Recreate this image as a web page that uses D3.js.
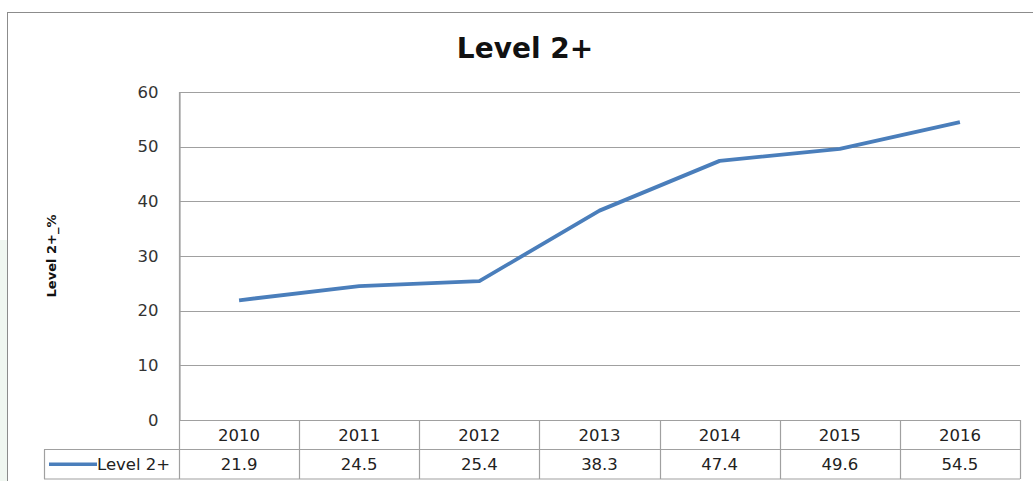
<!DOCTYPE html>
<html><head><meta charset="utf-8">
<script src="https://cdn.jsdelivr.net/npm/d3@7"></script>
<style>body{margin:0;background:#fff}svg{display:block}text{font-family:"DejaVu Sans",sans-serif}</style>
</head><body><svg id="c" width="1033" height="481"></svg>
<script>
const years = ["2010","2011","2012","2013","2014","2015","2016"];
const values = [21.9, 24.5, 25.4, 38.3, 47.4, 49.6, 54.5];
const yTicks = [0,10,20,30,40,50,60];
const seriesName = "Level 2+";
const title = "Level 2+";
const yTitle = "Level 2+_%";

const svg = d3.select("#c");
const L = 179, R = 1020, T = 92, B = 420, rowH = 29.5, FS = 16.5;
// faint watermark strip
svg.append("rect").attr("x",0).attr("y",240).attr("width",7).attr("height",241).attr("fill","#f0f7f1");
// chart border
svg.append("rect").attr("x",7.5).attr("y",12.5).attr("width",1040).attr("height",480)
  .attr("fill","none").attr("stroke","#8c8c8c");

const x = d3.scaleBand().domain(years).range([L,R]);
const y = d3.scaleLinear().domain([0,60]).range([B,T]);

// gridlines
svg.append("g").selectAll("line").data(yTicks.filter(d=>d>0)).join("line")
  .attr("x1",L).attr("x2",R).attr("y1",d=>Math.round(y(d))+0.5).attr("y2",d=>Math.round(y(d))+0.5)
  .attr("stroke","#a0a0a0").attr("stroke-width",1.2);
// y axis
const ya = svg.append("g").attr("transform",`translate(${L+0.5},0)`)
  .call(d3.axisLeft(y).tickValues(yTicks).tickSize(0).tickPadding(21));
ya.select(".domain").attr("stroke","#a0a0a0").attr("stroke-width",1.2);
ya.selectAll("text").attr("font-size",FS).attr("fill","#333").attr("font-family","DejaVu Sans");

// table
const tb = svg.append("g").attr("stroke","#a0a0a0").attr("stroke-width",1.2).attr("fill","none");
tb.append("line").attr("x1",L).attr("x2",R).attr("y1",B+0.5).attr("y2",B+0.5);
tb.append("line").attr("x1",44).attr("x2",R).attr("y1",B+rowH).attr("y2",B+rowH);
tb.append("line").attr("x1",44).attr("x2",R).attr("y1",B+2*rowH).attr("y2",B+2*rowH);
tb.append("line").attr("x1",44.5).attr("x2",44.5).attr("y1",B+rowH).attr("y2",B+2*rowH);
const edges = years.map(d=>x(d)).concat([R]);
tb.selectAll(".v").data(edges).join("line").attr("class","v")
  .attr("x1",d=>Math.round(d)+0.5).attr("x2",d=>Math.round(d)+0.5)
  .attr("y1",(d,i)=>i===0?T:B).attr("y2",B+2*rowH);

svg.append("g").selectAll("text").data(years).join("text")
  .attr("x",d=>x(d)+x.bandwidth()/2).attr("y",B+rowH/2+6).attr("text-anchor","middle")
  .attr("font-size",FS).attr("fill","#222").text(d=>d);
svg.append("g").selectAll("text").data(values).join("text")
  .attr("x",(d,i)=>x(years[i])+x.bandwidth()/2).attr("y",B+rowH*1.5+6).attr("text-anchor","middle")
  .attr("font-size",FS).attr("fill","#222").text(d=>d.toFixed(1));
// legend key
svg.append("line").attr("x1",49).attr("x2",97).attr("y1",B+rowH*1.5).attr("y2",B+rowH*1.5)
  .attr("stroke","#4a7ebb").attr("stroke-width",3.5);
svg.append("text").attr("x",97).attr("y",B+rowH*1.5+6).attr("font-size",FS).attr("fill","#222").text(seriesName);

// line
svg.append("path").datum(values)
  .attr("d",d3.line().x((d,i)=>x(years[i])+x.bandwidth()/2).y(d=>y(d)))
  .attr("fill","none").attr("stroke","#4a7ebb").attr("stroke-width",3.8).attr("stroke-linejoin","round");

// titles
svg.append("text").attr("x",525).attr("y",58).attr("text-anchor","middle")
  .attr("font-size",28).attr("font-weight","bold").attr("fill","#111").text(title);
svg.append("text").attr("transform","translate(56,256) rotate(-90)").attr("text-anchor","middle")
  .attr("font-size",13).attr("font-weight","bold").attr("fill","#111").text(yTitle);
</script></body></html>
